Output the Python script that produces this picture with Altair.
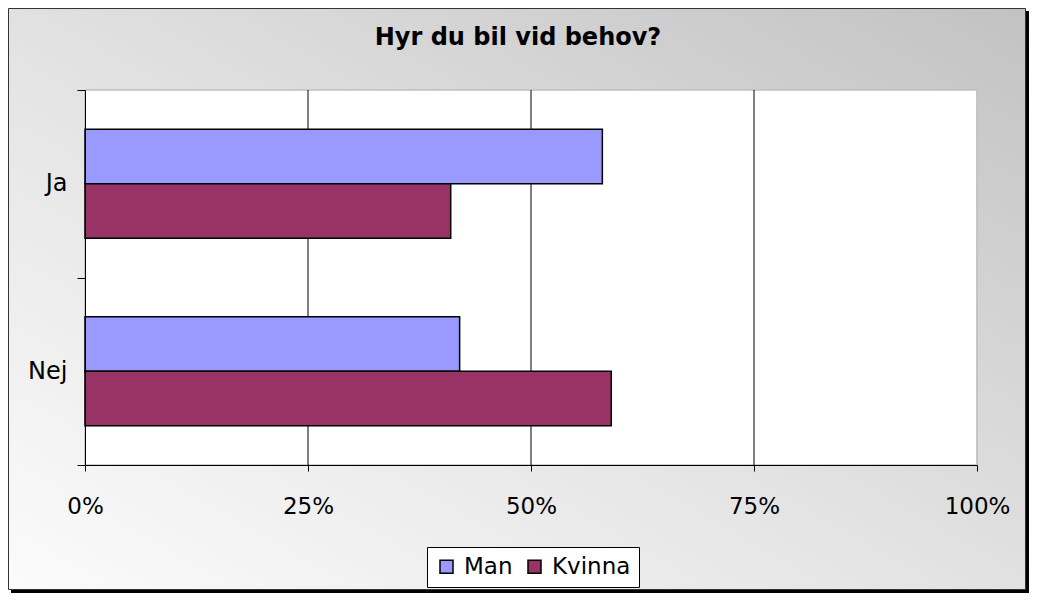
import altair as alt
import pandas as pd

categories = ["Ja", "Nej"]
series = ["Man", "Kvinna"]
man_values = [0.58, 0.42]
kvinna_values = [0.41, 0.59]
x_ticks = [0, 0.25, 0.5, 0.75, 1.0]
grid_values = [0.25, 0.5, 0.75, 1.0]
colors = ["#9999FF", "#993366"]
title_text = "Hyr du bil vid behov?"

rows = []
for i, c in enumerate(categories):
    rows.append({"svar": c, "kon": "Man", "andel": man_values[i]})
    rows.append({"svar": c, "kon": "Kvinna", "andel": kvinna_values[i]})
df = pd.DataFrame(rows)
grid_df = pd.DataFrame({"v": grid_values})

W, H = 892, 375
PL, PT, PR, PB = 77, 82, 52, 128
FONT = "DejaVu Sans"

one = pd.DataFrame({"a": [0]})

shadow = alt.Chart(one).mark_rect(color="black").encode(
    x=alt.value(-PL + 3), x2=alt.value(W + PR),
    y=alt.value(-PT + 3), y2=alt.value(H + PB)
)
frame = alt.Chart(one).mark_rect(
    fill=alt.LinearGradient(
        gradient="linear",
        stops=[alt.GradientStop(color="#fbfbfb", offset=0),
               alt.GradientStop(color="#e4e4e4", offset=0.45),
               alt.GradientStop(color="#c2c2c2", offset=1)],
        x1=0, y1=1, x2=1, y2=0),
    stroke="#333333", strokeWidth=1
).encode(
    x=alt.value(-PL + 0.5), x2=alt.value(W + PR - 3.5),
    y=alt.value(-PT + 0.5), y2=alt.value(H + PB - 3.5)
)
plotbg = alt.Chart(one).mark_rect(fill="white", stroke="#c0c0c0", strokeWidth=1.5).encode(
    x=alt.value(0), x2=alt.value(W), y=alt.value(0), y2=alt.value(H)
)
title = alt.Chart(one).mark_text(
    text=title_text, font=FONT, fontSize=24, fontWeight="bold", color="black",
    align="center", baseline="alphabetic"
).encode(x=alt.value(433), y=alt.value(-45))

xscale = alt.Scale(domain=[0, 1], nice=False)
xaxis = alt.Axis(values=x_ticks, format=".0%", grid=False, labelFont=FONT,
                 labelFontSize=23, labelColor="black", domainColor="black",
                 tickColor="black", tickSize=6, labelPadding=24, zindex=1,
                 labelFlush=False, labelOverlap=False, labelBound=False)

grid = alt.Chart(grid_df).mark_rule(strokeWidth=1).encode(
    x=alt.X("v:Q", scale=xscale, axis=xaxis, title=None),
    color=alt.condition("datum.v >= 1", alt.value("#c0c0c0"), alt.value("black")),
)

bars = alt.Chart(df).mark_bar(stroke="black", strokeWidth=1.5).encode(
    y=alt.Y("svar:N", sort=categories, title=None,
            scale=alt.Scale(paddingInner=0, paddingOuter=0),
            axis=alt.Axis(tickBand="extent", labelFont=FONT, labelFontSize=24,
                          labelColor="black", domainColor="black", tickColor="black",
                          tickSize=8, labelPadding=10, zindex=1)),
    yOffset=alt.YOffset("kon:N", sort=series,
                        scale=alt.Scale(paddingInner=0, paddingOuter=0.72)),
    x=alt.X("andel:Q", scale=xscale, title=None, axis=xaxis),
    color=alt.Color("kon:N", sort=series,
                    scale=alt.Scale(domain=series, range=colors),
                    legend=alt.Legend(title=None, orient="none", legendX=342, legendY=457,
                                      direction="horizontal", symbolType="square",
                                      symbolSize=169, symbolStrokeColor="black",
                                      symbolStrokeWidth=1.5, labelFont=FONT,
                                      labelFontSize=23, labelColor="black",
                                      strokeColor="black", fillColor="white",
                                      padding=8, columnPadding=10, labelOffset=6)),
)

chart = alt.layer(shadow, frame, plotbg, grid, bars, title).properties(
    width=W, height=H,
    padding={"left": PL, "top": PT, "right": PR, "bottom": PB},
    autosize=alt.AutoSizeParams(type="none"),
).configure_view(stroke=None, fill=None)

chart.save("out.html", embed_options={"renderer": "svg", "actions": False})
